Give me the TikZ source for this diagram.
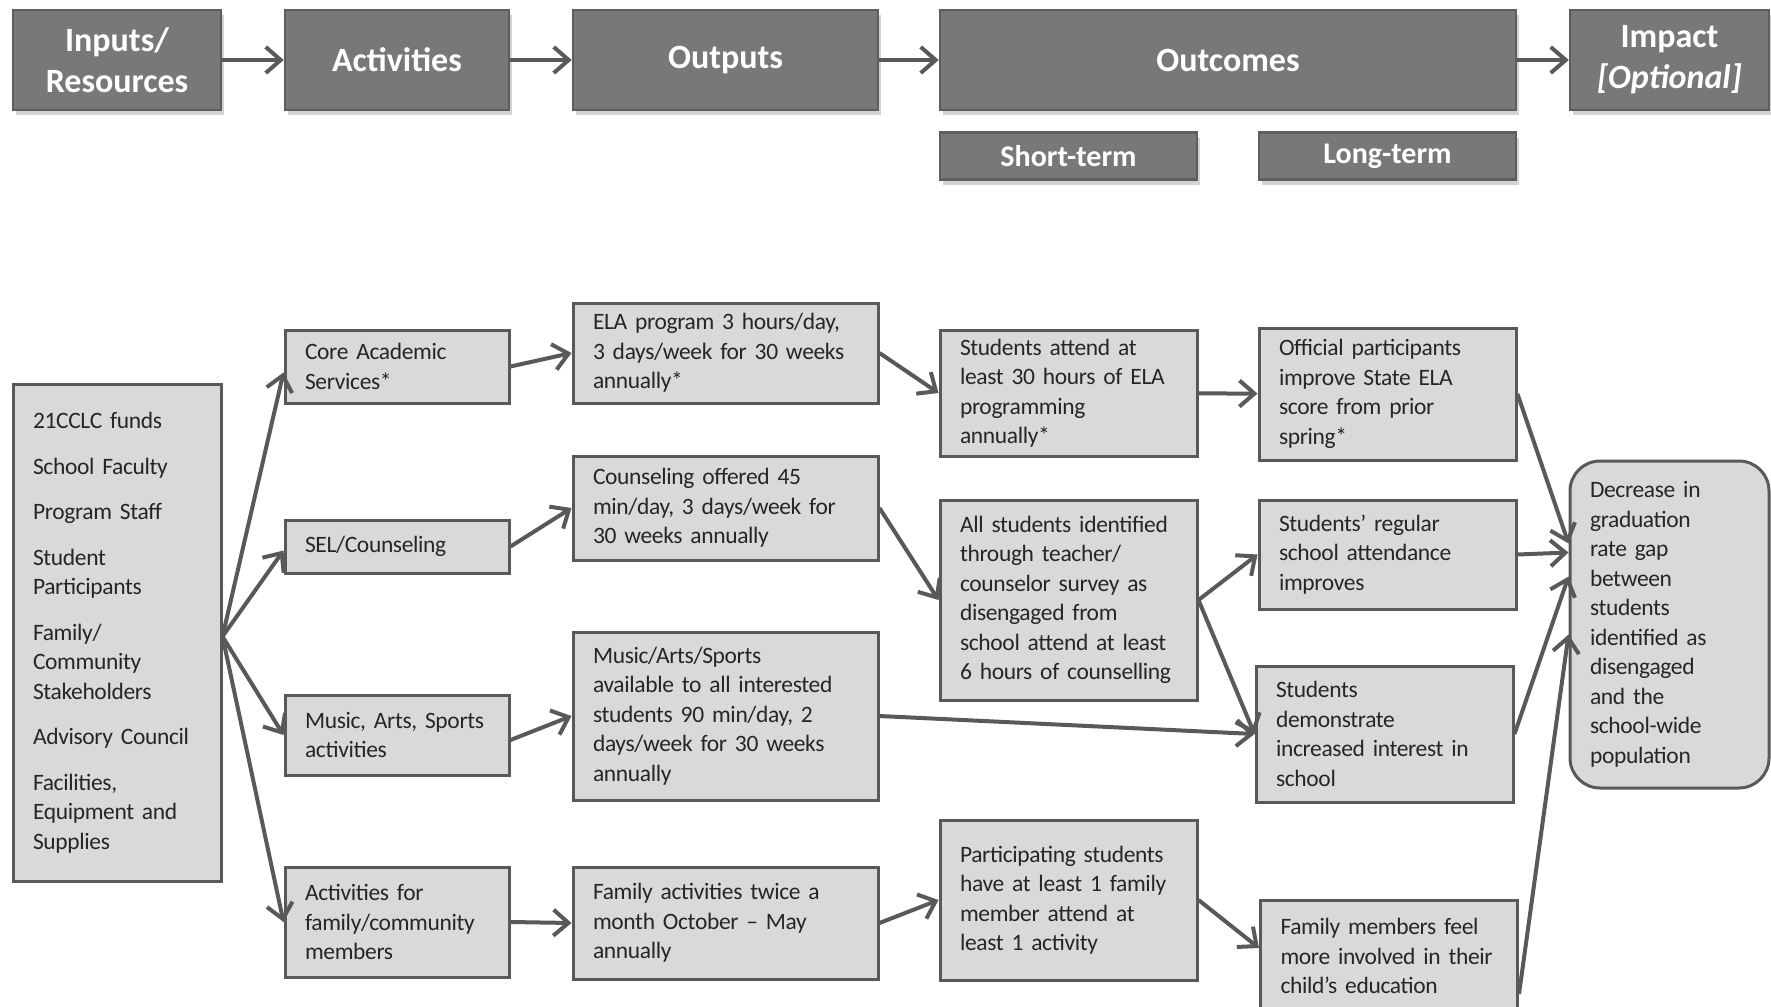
\documentclass[tikz,border=0pt]{standalone}
\usepackage{fontspec}
\setmainfont{Carlito}[WordSpace=0.6, LetterSpace=-1.5]
\newfontfamily\headfont{Carlito}
\usetikzlibrary{arrows.meta, positioning, shadows}
\definecolor{headfill}{HTML}{787878}
\definecolor{headline}{HTML}{5E5E5E}
\definecolor{boxfill}{HTML}{D9D9D9}
\definecolor{boxline}{HTML}{595959}
\definecolor{arrowgray}{HTML}{595959}
\definecolor{textgray}{HTML}{262626}

\begin{document}
\begin{tikzpicture}[
	x=1pt, y=-1pt,
	% --- STYLES ---
	% dark header blocks of the top row
	head/.style={
		draw=headline,
		fill=headfill,
		line width=2.5pt,
		text=white,
		align=center,
		minimum height=100pt,
		font=\headfont\fontsize{34}{41}\selectfont\bfseries,
		drop shadow={shadow xshift=3pt, shadow yshift=-5pt, opacity=0.35}
	},
	subhead/.style={
		head,
		minimum height=47pt,
		minimum width=257pt,
		font=\headfont\fontsize{30}{36}\selectfont\bfseries
	},
	% light boxes of the model itself
	box/.style={
		draw=boxline,
		fill=boxfill,
		line width=3pt,
		inner xsep=20pt,
		inner ysep=6pt,
		align=left,
		text=textgray,
		font=\fontsize{23.5}{29.5}\selectfont
	},
	actbox/.style={box, text width=184pt},
	outbox/.style={box, text width=265pt},
	ocbox/.style={box, text width=217pt},
	% arrows
	line/.style={
		draw=arrowgray,
		line width=4pt,
		-{Straight Barb[length=15pt, width=26pt]}
	}
	]
	
	\useasboundingbox (0,0) rectangle (1771,1006);
	\clip (0,0) rectangle (1771,1006);
	
	% --- Header row ---
	\node[head, minimum width=208pt] (h_inp) at (117,60) {Inputs/\\Resources};
	\node[head, minimum width=224pt] (h_act) at (397,60) {Activities};
	\node[head, minimum width=305pt] (h_out) at (725.5,60) {Outputs};
	\node[head, minimum width=576pt] (h_oc) at (1228,60) {Outcomes};
	\node[head, minimum width=199pt] (h_imp) at (1669.5,60) {Impact\\\textit{[Optional]}};
	\node[subhead, below right=20pt and 0pt of h_oc.south west] (h_short) {Short-term};
	\node[subhead, below left=20pt and 0pt of h_oc.south east] (h_long) {Long-term};
	
	\draw[line] (h_inp) -- (h_act);
	\draw[line] (h_act) -- (h_out);
	\draw[line] (h_out) -- (h_oc);
	\draw[line] (h_oc) -- (h_imp);
	
	% --- Inputs ---
	\node[box, text width=168pt, minimum height=497pt] (in_res) at (117,632.5)
		{21CCLC funds\\[16pt]School Faculty\\[16pt]Program Staff\\[16pt]Student\\Participants\\[16pt]%
		Family/\\Community\\Stakeholders\\[16pt]Advisory Council\\[16pt]Facilities,\\Equipment and\\Supplies};
	
	% --- Activities ---
	\node[actbox, minimum height=73pt] (act_core) at (397,366.5) {Core Academic\\Services*};
	\node[actbox, minimum height=53pt] (act_sel) at (397,546.5) {SEL/Counseling};
	\node[actbox, minimum height=80pt] (act_mas) at (397,735) {Music, Arts, Sports\\activities};
	\node[actbox, minimum height=110pt] (act_fam) at (397,922) {Activities for\\family/community\\members};
	
	% --- Outputs ---
	\node[outbox, minimum height=100pt] (out_ela) at (725.5,353) {ELA program 3 hours/day,\\3 days/week for 30 weeks\\annually*};
	\node[outbox, minimum height=104pt] (out_cns) at (725.5,508) {Counseling offered 45\\min/day, 3 days/week for\\30 weeks annually};
	\node[outbox, minimum height=168pt] (out_mas) at (725.5,716) {Music/Arts/Sports\\available to all interested\\students 90 min/day, 2\\days/week for 30 weeks\\annually};
	\node[outbox, minimum height=112pt] (out_fam) at (725.5,923) {Family activities twice a\\month October -- May\\annually};
	
	% --- Short-term outcomes ---
	\node[ocbox, minimum height=126pt] (st_attend) at (1068.5,393) {Students attend at\\least 30 hours of ELA\\programming\\annually*};
	\node[ocbox, minimum height=200pt] (st_ident) at (1068.5,600) {All students identified\\through teacher/\\counselor survey as\\disengaged from\\school attend at least\\6 hours of counselling};
	\node[ocbox, minimum height=160pt] (st_part) at (1068.5,900) {Participating students\\have at least 1 family\\member attend at\\least 1 activity};
	
	% --- Long-term outcomes ---
	\node[ocbox, minimum height=132pt] (lt_offic) at (1387.5,394) {Official participants\\improve State ELA\\score from prior\\spring*};
	\node[ocbox, minimum height=109pt] (lt_regular) at (1387.5,554.5) {Students’ regular\\school attendance\\improves};
	\node[ocbox, minimum height=136pt] (lt_demo) at (1384.5,734) {Students\\demonstrate\\increased interest in\\school};
	\node[ocbox, minimum height=112pt] (lt_feel) at (1389,956) {Family members feel\\more involved in their\\child’s education};
	
	% --- Impact ---
	\node[box, text width=159pt, minimum height=327pt, rounded corners=30pt] (im_gap) at (1669.5,624.5)
		{Decrease in\\graduation\\rate gap\\between\\students\\identified as\\disengaged\\and the\\school-wide\\population};
	
	% --- Connections ---
	\coordinate (fan) at ([yshift=-4pt]in_res.east);
	\draw[line] (fan) -- ([yshift=-6pt]act_core.west);
	\draw[line] (fan) -- ([yshift=-4pt]act_sel.west);
	\draw[line] (fan) -- (act_mas.west);
	\draw[line] (fan) -- (act_fam.west);
	
	\draw[line] (act_core.east) -- (out_ela.west);
	\draw[line] (act_sel.east) -- (out_cns.west);
	\draw[line] ([yshift=-5pt]act_mas.east) -- (out_mas.west);
	\draw[line] (act_fam.east) -- (out_fam.west);
	
	\draw[line] (out_ela.east) -- (st_attend.west);
	\draw[line] (out_cns.east) -- (st_ident.west);
	\draw[line] (out_mas.east) -- (lt_demo.west);
	\draw[line] (out_fam.east) -- (st_part.west);
	
	\draw[line] (st_attend) -- (lt_offic);
	\draw[line] (st_ident.east) -- (lt_regular.west);
	\draw[line] (st_ident.east) -- (lt_demo.west);
	\draw[line] (st_part.east) -- ([yshift=8pt]lt_feel.west);
	
	\draw[line] (lt_offic.east) -- ([yshift=81pt]im_gap.west);
	\draw[line] (lt_regular.east) -- ([yshift=72pt]im_gap.west);
	\draw[line] (lt_demo.east) -- ([yshift=48pt]im_gap.west);
	\draw[line] ([yshift=-38pt]lt_feel.east) -- ([yshift=-10pt]im_gap.west);
	
\end{tikzpicture}
\end{document}
